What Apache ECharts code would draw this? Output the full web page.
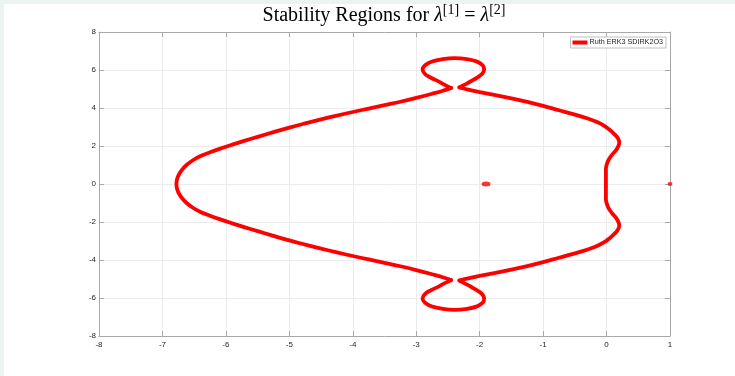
<!DOCTYPE html>
<html>
<head>
<meta charset="utf-8">
<script src="https://cdn.jsdelivr.net/npm/echarts@6/dist/echarts.min.js"></script>
<style>
html, body { margin: 0; padding: 0; background: #edf3f0; }
#chart { position: absolute; left: 4px; top: 4px; width: 731px; height: 372px; background: #fff; }
</style>
</head>
<body>
<div id="chart"></div>
<script>
// boundary pieces of the stability region, split at the two pinch points
// left branch: top pinch -> left lobe -> bottom pinch
const leftBranchX = [-2.45, -2.58, -2.75, -3.00, -3.25, -3.50, -3.75, -4.00, -4.25, -4.50, -4.75, -5.00, -5.25, -5.50, -5.70, -5.90, -6.10, -6.25, -6.40, -6.52, -6.62, -6.69, -6.74, -6.77, -6.78,
    -6.77, -6.74, -6.69, -6.62, -6.52, -6.40, -6.25, -6.10, -5.90, -5.70, -5.50, -5.25, -5.00, -4.75, -4.50, -4.25, -4.00, -3.75, -3.50, -3.25, -3.00, -2.75, -2.58, -2.45];
const leftBranchY = [5.06, 4.91, 4.75, 4.53, 4.33, 4.15, 3.97, 3.79, 3.60, 3.40, 3.19, 2.97, 2.73, 2.48, 2.28, 2.07, 1.85, 1.67, 1.47, 1.25, 1.00, 0.75, 0.50, 0.25, 0.00,
    -0.25, -0.50, -0.75, -1.00, -1.25, -1.47, -1.67, -1.85, -2.07, -2.28, -2.48, -2.73, -2.97, -3.19, -3.40, -3.60, -3.79, -3.97, -4.15, -4.33, -4.53, -4.75, -4.91, -5.06];
// small loop above the top pinch
const topLoopX = [-2.45, -2.55, -2.65, -2.76, -2.86, -2.90, -2.86, -2.75, -2.58, -2.40, -2.20, -2.04, -1.95, -1.93, -1.96, -2.04, -2.13, -2.23, -2.32];
const topLoopY = [5.06, 5.22, 5.40, 5.58, 5.78, 6.02, 6.25, 6.45, 6.57, 6.62, 6.57, 6.44, 6.24, 6.02, 5.80, 5.60, 5.42, 5.24, 5.08];
// right branch: top pinch -> bulge near the imaginary axis -> bottom pinch
const rightBranchX = [-2.32, -2.20, -2.00, -1.75, -1.50, -1.25, -1.00, -0.75, -0.50, -0.31, -0.15, -0.03, 0.06, 0.13, 0.17, 0.19, 0.20, 0.195, 0.18, 0.15, 0.09, 0.04, 0.01, -0.01, -0.01, -0.01,
    -0.01, -0.01, 0.01, 0.04, 0.09, 0.15, 0.18, 0.195, 0.20, 0.19, 0.17, 0.13, 0.06, -0.03, -0.15, -0.31, -0.50, -0.75, -1.00, -1.25, -1.50, -1.75, -2.00, -2.20, -2.32];
const rightBranchY = [5.08, 4.98, 4.84, 4.68, 4.51, 4.32, 4.11, 3.88, 3.65, 3.46, 3.26, 3.05, 2.82, 2.60, 2.45, 2.32, 2.20, 2.08, 1.95, 1.78, 1.55, 1.32, 1.10, 0.80, 0.40, 0.00,
    -0.40, -0.80, -1.10, -1.32, -1.55, -1.78, -1.95, -2.08, -2.20, -2.32, -2.45, -2.60, -2.82, -3.05, -3.26, -3.46, -3.65, -3.88, -4.11, -4.32, -4.51, -4.68, -4.84, -4.98, -5.08];
// small loop below the bottom pinch
const bottomLoopX = [-2.32, -2.23, -2.13, -2.04, -1.96, -1.93, -1.95, -2.04, -2.20, -2.40, -2.58, -2.75, -2.86, -2.90, -2.86, -2.76, -2.65, -2.55, -2.45];
const bottomLoopY = [-5.08, -5.24, -5.42, -5.60, -5.80, -6.02, -6.24, -6.44, -6.57, -6.62, -6.57, -6.45, -6.25, -6.02, -5.78, -5.58, -5.40, -5.22, -5.06];
// isolated small pieces on the real axis
const islandX = [-1.90];
const islandY = [0.00];
const edgeDotX = [1.00];
const edgeDotY = [0.00];

const seriesName = 'Ruth ERK3 SDIRK2O3';

const zip = (xs, ys) => xs.map((x, i) => [x, ys[i]]);

const axisColor = '#a8a8a8';
const labelStyle = { color: '#262626', fontSize: 8, fontFamily: 'Liberation Sans, Arial' };

const curve = (data) => ({
    name: seriesName,
    type: 'line',
    data: data,
    showSymbol: false,
    smooth: 0.4,
    itemStyle: { color: '#ff0000' },
    lineStyle: { color: '#ff0000', width: 3.8, cap: 'round', join: 'round' }
});

const frameAxis = (pos, min, max, interval, labels) => ({
    type: 'value', min: min, max: max, interval: interval, position: pos,
    axisLine: { show: true, onZero: false, lineStyle: { color: axisColor } },
    axisTick: { show: true, inside: true, length: 5, lineStyle: { color: axisColor } },
    axisLabel: labels ? Object.assign({ margin: pos === 'left' ? 3 : 5 }, labelStyle) : { show: false },
    splitLine: { show: labels, lineStyle: { color: '#ececec' } }
});

const chart = echarts.init(document.getElementById('chart'));

chart.setOption({
    animation: false,
    grid: { left: 95, top: 28, right: 65, bottom: 40 },
    legend: {
        data: [seriesName],
        right: 69,
        top: 33,
        icon: 'rect',
        itemWidth: 15,
        itemHeight: 4,
        itemGap: 4,
        padding: [2, 3, 2, 2],
        borderColor: '#c0c0c0',
        borderWidth: 1,
        backgroundColor: '#fff',
        textStyle: { color: '#222', fontSize: 7.2, fontFamily: 'Liberation Sans, Arial', padding: [0, 0, 0, -3] }
    },
    graphic: [{
        type: 'text',
        x: 380,
        y: -1,
        style: {
            text: '{n|Stability Regions for }{i|λ}{s|[1]}{n| = }{i|λ}{s|[2]}',
            align: 'center',
            rich: {
                n: { fontFamily: 'Liberation Serif', fontSize: 20, color: '#111', lineHeight: 25 },
                i: { fontFamily: 'Liberation Serif', fontStyle: 'italic', fontSize: 20, color: '#111', lineHeight: 25 },
                s: { fontFamily: 'Liberation Serif', fontSize: 14, color: '#111', lineHeight: 25, padding: [0, 0, 10, 0] }
            }
        }
    }],
    xAxis: [frameAxis('bottom', -8, 1, 1, true), frameAxis('top', -8, 1, 1, false)],
    yAxis: [frameAxis('left', -8, 8, 2, true), frameAxis('right', -8, 8, 2, false)],
    series: [
        curve(zip(leftBranchX, leftBranchY)),
        curve(zip(topLoopX, topLoopY)),
        curve(zip(rightBranchX, rightBranchY)),
        curve(zip(bottomLoopX, bottomLoopY)),
        {
            name: 'island',
            type: 'scatter',
            data: zip(islandX, islandY),
            symbol: 'circle',
            symbolSize: [9, 5],
            itemStyle: { color: '#ff0000' }
        },
        {
            name: 'edge',
            type: 'scatter',
            data: zip(edgeDotX, edgeDotY),
            symbol: 'circle',
            symbolSize: [5, 4],
            itemStyle: { color: '#ff0000' }
        }
    ]
});
</script>
</body>
</html>
